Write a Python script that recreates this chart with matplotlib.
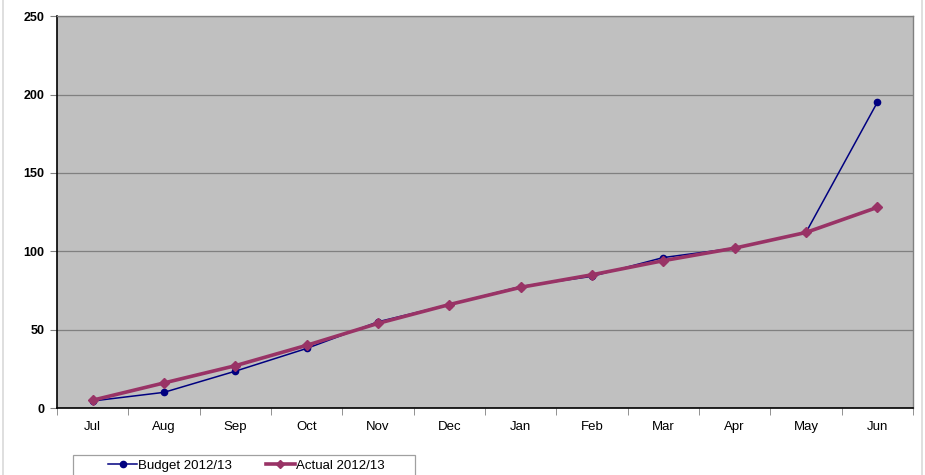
import matplotlib
matplotlib.use("Agg")
from matplotlib import pyplot as plt
from matplotlib.patches import Rectangle

plt.rcParams['font.family'] = ['Liberation Sans', 'DejaVu Sans']

# Months of the financial year
months = ["Jul", "Aug", "Sep", "Oct", "Nov", "Dec",
          "Jan", "Feb", "Mar", "Apr", "May", "Jun"]

# Cumulative values
budget = [4.5, 10, 23.5, 38, 55, 66, 77.5, 84, 96, 102, 112, 195]
actual = [5, 16, 27, 40, 54, 66, 77, 85, 94, 102, 112, 128]

fig = plt.figure(figsize=(9.25, 4.75), dpi=100)
ax = fig.add_axes([0.0616, 0.141, 0.9254, 0.825])

# light outer border of the chart area
fig.patches.append(Rectangle((0.003, -0.01), 0.994, 1.02, transform=fig.transFigure,
                             fill=False, edgecolor="#d9d9d9", linewidth=1.2))

ax.set_facecolor("#c0c0c0")
x = list(range(len(months)))
ax.plot(x, budget, color="#000080", linewidth=1.1, marker="o", markersize=4.5,
        label="Budget 2012/13", zorder=3)
ax.plot(x, actual, color="#993366", linewidth=2.6, marker="D", markersize=5.5,
        label="Actual 2012/13", zorder=4)

ax.set_xlim(-0.5, len(months) - 0.5)
ax.set_ylim(0, 250)
ax.set_yticks(range(0, 251, 50))
ax.set_yticklabels([str(v) for v in range(0, 251, 50)], fontweight="bold", fontsize=9)

# category labels centred, tick marks between categories
ax.set_xticks(x)
ax.set_xticklabels(months, fontsize=9.5)
ax.tick_params(axis="x", which="major", length=0, pad=9)
ax.set_xticks([i + 0.5 for i in range(-1, len(months))], minor=True)
ax.tick_params(axis="x", which="minor", length=5, color="#808080", direction="out")
ax.tick_params(axis="y", length=5, color="#808080", pad=4)

ax.grid(axis="y", color="#808080", linewidth=0.9)
ax.set_axisbelow(True)
for side in ["left", "bottom"]:
    ax.spines[side].set_color("black")
    ax.spines[side].set_linewidth(1.2)
for side in ["top", "right"]:
    ax.spines[side].set_color("#808080")
    ax.spines[side].set_linewidth(1.0)

# legend box (runs off the bottom edge like the original)
fig.patches.append(Rectangle((0.0789, -0.03), 0.3697, 0.072, transform=fig.transFigure,
                             fill=False, edgecolor="#a0a0a0", linewidth=0.9))
leg = fig.legend(loc="center left", bbox_to_anchor=(0.1168, 0.019), ncol=2,
                 fontsize=9.5, frameon=False,
                 handlelength=2.2, handletextpad=0.05, columnspacing=2.6,
                 borderpad=0.0, borderaxespad=0.0)
for h in leg.get_lines():
    h.set_markersize(4.5)

fig.savefig("out.png", dpi=100)
